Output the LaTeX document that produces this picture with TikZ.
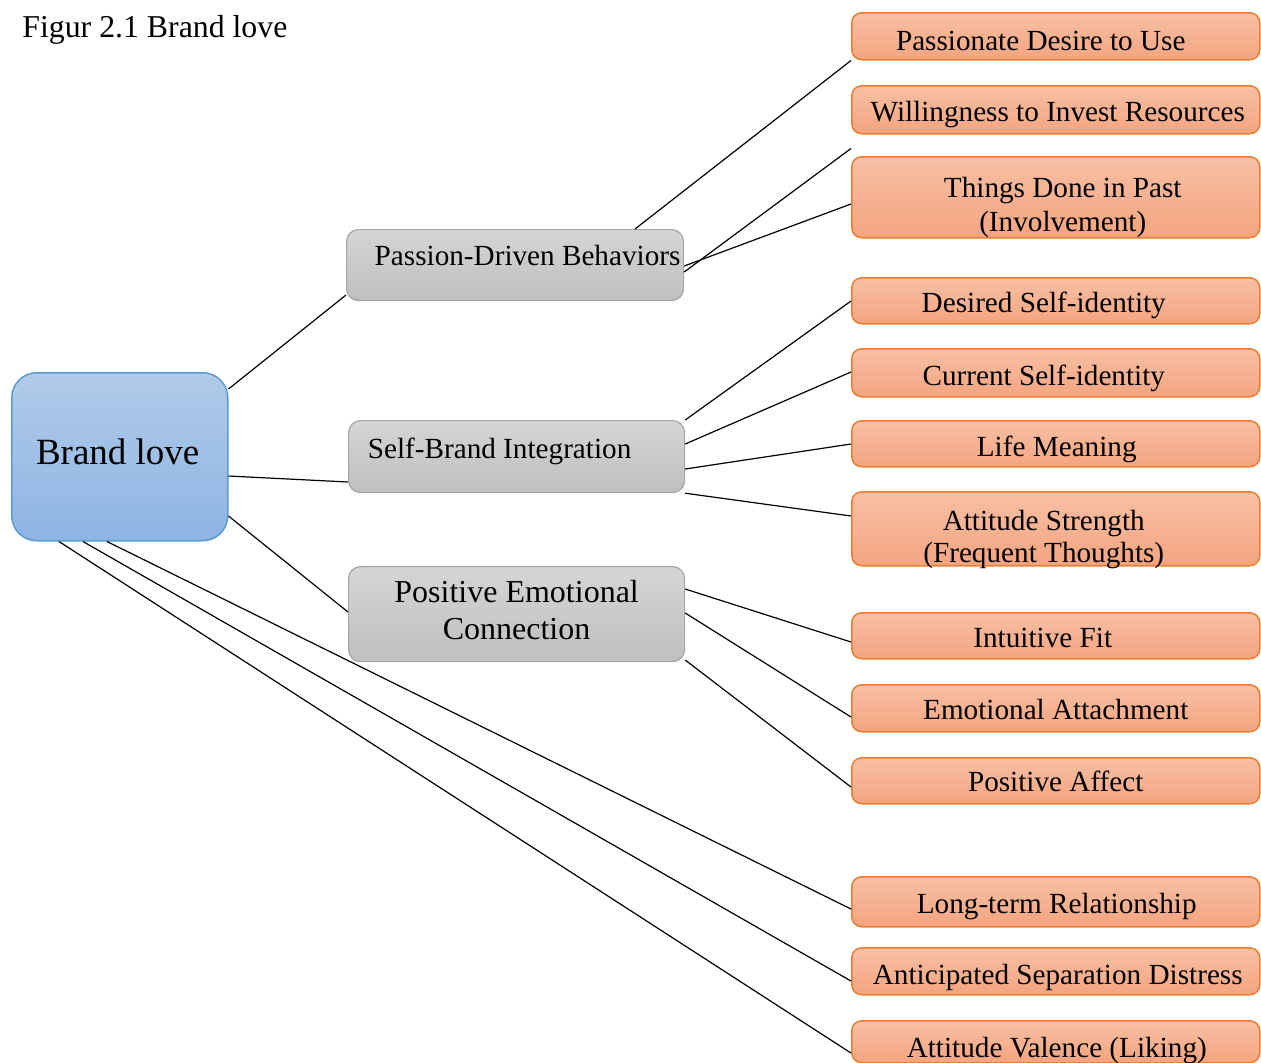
\documentclass[tikz,border=0pt]{standalone}
\usepackage{fontspec}
\setmainfont{Liberation Serif}
\usepackage{tikz}
\usetikzlibrary{calc,positioning}
\tikzset{>=latex}
\definecolor{lovetop}{RGB}{177,203,233}
\definecolor{lovebottom}{RGB}{142,180,227}
\definecolor{loveline}{RGB}{91,155,213}
\definecolor{midtop}{RGB}{213,213,213}
\definecolor{midbottom}{RGB}{191,191,191}
\definecolor{midline}{RGB}{165,165,165}
\definecolor{itemtop}{RGB}{247,192,165}
\definecolor{itembottom}{RGB}{244,164,127}
\definecolor{itemline}{RGB}{237,125,49}
% text moved by #1 to the right and #2 down, box size kept
\newcommand{\boxtext}[3]{\raisebox{-#2}[\height][\depth]{\hspace*{#1}\begin{tabular}{@{}c@{}}#3\end{tabular}\hspace*{-#1}}}

\begin{document}
\begin{tikzpicture}[x=0.5pt, y=-0.5pt,
    box/.style={draw, anchor=north west, inner sep=2pt, font=\fontsize{14.6}{17}\selectfont},
    lovebox/.style={box, draw=loveline, top color=lovetop, bottom color=lovebottom, rounded corners=12.5pt, line width=0.75pt, font=\fontsize{18.5}{22}\selectfont},
    midbox/.style={box, draw=midline, top color=midtop, bottom color=midbottom, rounded corners=6pt, line width=0.6pt},
    itembox/.style={box, draw=itemline, top color=itemtop, bottom color=itembottom, rounded corners=5pt, line width=0.75pt, minimum width=204pt},
    link/.style={draw=black, line width=0.6pt}]
    \useasboundingbox (0,0) rectangle (1261,1062);

    \node at (22,37) [anchor=base west, inner sep=0pt, font=\fontsize{15.9}{19}\selectfont] (title) {Figur 2.1 Brand love};

    % main box and the three groups
    \node at (11,372) [lovebox, minimum width=108pt, minimum height=84pt] (love) {\boxtext{-1pt}{-0.5pt}{Brand love}};
    \node at (346,229) [midbox, minimum width=168.5pt, minimum height=35.5pt] (passion) {\boxtext{6.25pt}{-3pt}{Passion-Driven Behaviors}};
    \node at (348,420) [midbox, minimum width=168pt, minimum height=36pt] (self) {\boxtext{-8.5pt}{-2.5pt}{Self-Brand Integration}};
    \node at (348,566) [midbox, minimum width=168pt, minimum height=47.5pt, font=\fontsize{16}{18.5}\selectfont] (emotion) {\boxtext{0pt}{-0.5pt}{Positive Emotional\\Connection}};

    % items
    \node at (851,12) [itembox, minimum height=23.5pt] (desire) {\boxtext{-7.5pt}{3.5pt}{Passionate Desire to Use}};
    \node at (851,85) [itembox, minimum height=24pt] (invest) {\boxtext{1pt}{2.5pt}{Willingness to Invest Resources}};
    \node at (851,156) [itembox, minimum height=40.5pt] (past) {\boxtext{3.5pt}{5pt}{Things Done in Past\\(Involvement)}};
    \node at (851,277) [itembox, minimum height=23pt] (desired) {\boxtext{-6pt}{2.5pt}{Desired Self-identity}};
    \node at (851,348) [itembox, minimum height=24pt] (current) {\boxtext{-6pt}{3pt}{Current Self-identity}};
    \node at (851,420) [itembox, minimum height=23pt] (meaning) {\boxtext{0.5pt}{3pt}{Life Meaning}};
    \node at (851,491) [itembox, minimum height=37pt, font=\fontsize{14.6}{16}\selectfont] (strength) {\boxtext{-6pt}{5.5pt}{Attitude Strength\\(Frequent Thoughts)}};
    \node at (851,612) [itembox, minimum height=23pt] (fit) {\boxtext{-6.5pt}{2.5pt}{Intuitive Fit}};
    \node at (851,684) [itembox, minimum height=23.5pt] (attach) {\boxtext{0pt}{2pt}{Emotional Attachment}};
    \node at (851,757) [itembox, minimum height=23pt] (affect) {\boxtext{0pt}{2pt}{Positive Affect}};
    \node at (851,876) [itembox, minimum height=25pt] (relation) {\boxtext{0.5pt}{2.5pt}{Long-term Relationship}};
    \node at (851,947) [itembox, minimum height=23.5pt] (distress) {\boxtext{1pt}{3pt}{Anticipated Separation Distress}};
    \node at (851,1020) [itembox, minimum height=20.5pt] (valence) {\boxtext{0.5pt}{4.5pt}{Attitude Valence (Liking)}};

    % links from brand love
    \draw [link] ($(love.north east)+(0,17)$) -- ($(passion.north west)+(0,66)$);
    \draw [link] ($(love.north east)+(0,104)$) -- ($(self.north west)+(0,62)$);
    \draw [link] ($(love.north east)+(0,144)$) -- ($(emotion.north west)+(0,46)$);
    \draw [link] ($(love.south west)+(48,0)$) -- ($(valence.north west)+(0,33)$);
    \draw [link] ($(love.south west)+(72,0)$) -- ($(distress.north west)+(0,34)$);
    \draw [link] ($(love.south west)+(96,0)$) -- ($(relation.north west)+(0,33)$);

    % links from the groups
    \draw [link] ($(passion.north west)+(289,0)$) -- (desire.south west);
    \draw [link] ($(passion.north east)+(0,43)$) -- ($(invest.south west)+(0,14)$);
    \draw [link] ($(passion.north east)+(0,37)$) -- ($(past.north west)+(0,48)$);
    \draw [link] (self.north east) -- ($(desired.north west)+(0,24)$);
    \draw [link] ($(self.north east)+(0,24)$) -- ($(current.north west)+(0,24)$);
    \draw [link] ($(self.north east)+(0,49)$) -- ($(meaning.north west)+(0,24)$);
    \draw [link] (self.south east) -- ($(strength.north west)+(0,25)$);
    \draw [link] ($(emotion.north east)+(0,23)$) -- ($(fit.north west)+(0,30)$);
    \draw [link] ($(emotion.north east)+(0,47)$) -- ($(attach.north west)+(0,33)$);
    \draw [link] ($(emotion.north east)+(0,94)$) -- ($(affect.north west)+(0,30)$);
\end{tikzpicture}
\end{document}
